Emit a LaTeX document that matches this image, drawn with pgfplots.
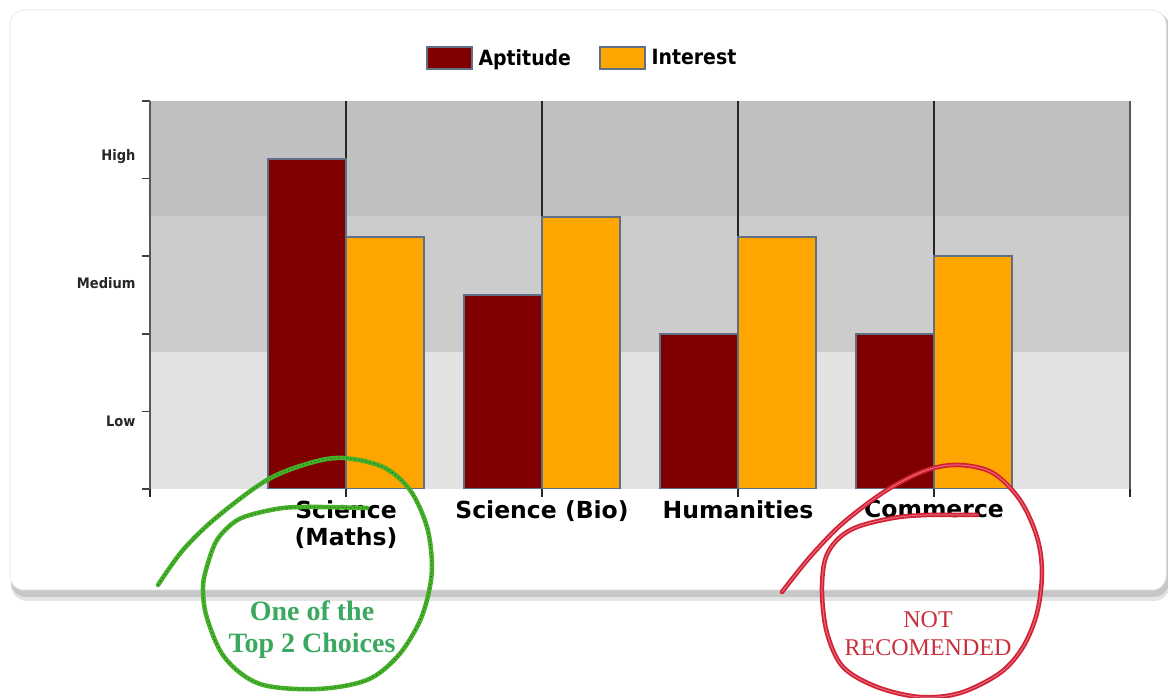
\documentclass[border=0pt]{standalone}
\usepackage{pgfplots}
\pgfplotsset{compat=1.18}
\usepackage{fontspec}
\setmainfont{DejaVu Sans}
\newfontfamily\catfont{DejaVu Sans}
\newfontfamily\condfont{DejaVu Sans}[FakeStretch=0.9]
\newfontfamily\seriffont{Liberation Serif}
\definecolor{apt}{HTML}{800000}
\definecolor{intr}{HTML}{FFA500}
\definecolor{edge}{HTML}{5F6F85}
\definecolor{bandhi}{HTML}{C0C0C0}
\definecolor{bandmid}{HTML}{CCCCCC}
\definecolor{bandlo}{HTML}{E3E2E3}
\definecolor{anngreen}{HTML}{45B02A}
\definecolor{anntext}{HTML}{3AA85E}
\definecolor{annred}{HTML}{D42034}
\definecolor{anntextred}{HTML}{C8303C}
\pgfplotsset{boxlegend/.style={legend image code/.code={\draw[##1,/tikz/.cd,line width=1.5pt] (0pt,-11pt) rectangle (45pt,11pt);}}}
\begin{document}
\begin{tikzpicture}
\useasboundingbox (0,0) rectangle (1168pt,698pt);
% card with shadow
\fill[black!10, rounded corners=16pt] (11pt,97pt) rectangle (1170pt,686pt);
\fill[black!22, rounded corners=15pt] (11pt,101pt) rectangle (1169pt,686pt);
\fill[white, draw=black!8, line width=1pt, rounded corners=14pt] (10pt,108pt) rectangle (1166pt,688pt);
% background bands of the plot area
\fill[bandlo] (150pt,209pt) rectangle (1130pt,346pt);
\fill[bandmid] (150pt,346pt) rectangle (1130pt,482pt);
\fill[bandhi] (150pt,482pt) rectangle (1130pt,597pt);
\begin{axis}[
  at={(150pt,209pt)}, anchor=south west,
  scale only axis, width=980pt, height=388pt,
  xmin=-1, xmax=4, ymin=0, ymax=100,
  separate axis lines,
  x axis line style={draw=none},
  y axis line style={draw=black!65, line width=1.8pt},
  ybar=0pt, bar width=0.4,
  tick pos=left,
  xtick={-1,0,1,2,3,4},
  xticklabels={,{Science\\(Maths)},{Science (Bio)},Humanities,Commerce,},
  xticklabel style={align=center, font=\catfont\bfseries\fontsize{23.5}{27}\selectfont, text=black},
  xmajorgrids, major grid style={draw=black!85, line width=1.3pt},
  ytick={0,20,...,100}, yticklabels={},
  tick align=outside, major tick length=8pt,
  xtick style={draw=black!85, line width=1.3pt},
  ytick style={draw=black!75, line width=1.5pt},
  extra y ticks={17.5,53.1,85.6},
  extra y tick labels={Low,Medium,High},
  extra y tick style={ytick style={draw=none},
     yticklabel style={font=\condfont\bfseries\fontsize{14.5}{16}\selectfont, text=black!85, xshift=-3pt}},
  legend style={at={(0.441,1)}, anchor=center, yshift=43pt, draw=none, fill=none,
     legend columns=2, font=\condfont\bfseries\fontsize{21}{24}\selectfont,
     /tikz/every odd column/.append style={column sep=4pt},
     /tikz/every even column/.append style={column sep=26pt}},
]
\addplot[fill=apt, draw=edge, line width=2pt, boxlegend]
  coordinates {(0,85) (1,50) (2,40) (3,40)};
\addplot[fill=intr, draw=edge, line width=2pt, boxlegend]
  coordinates {(0,65) (1,70) (2,65) (3,60)};
\legend{Aptitude, Interest}
\end{axis}
% hand-drawn annotations
\def\greenpath{(158pt,113pt) (183pt,148pt) (217pt,181pt) (267pt,218pt) (310pt,235pt) (343pt,240pt) (383pt,231pt) (410pt,208pt) (427pt,171pt) (432pt,131pt) (427pt,98pt) (417pt,71pt) (397pt,41pt) (367pt,18pt) (317pt,9pt) (260pt,14pt) (225pt,40pt) (207pt,80pt) (203pt,111pt) (208pt,135pt) (217pt,158pt) (233pt,175pt) (250pt,183pt) (283pt,190pt) (317pt,191pt) (367pt,190pt)}
\def\redpath{(782pt,106pt) (810pt,141pt) (843pt,175pt) (887pt,208pt) (927pt,228pt) (960pt,233pt) (993pt,225pt) (1020pt,198pt) (1037pt,161pt) (1042pt,125pt) (1037pt,85pt) (1023pt,51pt) (1000pt,25pt) (960pt,5pt) (920pt,1pt) (877pt,11pt) (843pt,31pt) (827pt,65pt) (822pt,105pt) (825pt,138pt) (837pt,158pt) (857pt,171pt) (893pt,180pt) (927pt,183pt) (977pt,183pt)}
\draw[anngreen, line width=4.5pt, line cap=round] plot[smooth, tension=0.55] coordinates {\greenpath};
\draw[black!50!anngreen, line width=0.8pt, dash pattern=on 1pt off 3pt] plot[smooth, tension=0.55] coordinates {\greenpath};
\draw[annred, line width=4.5pt, line cap=round] plot[smooth, tension=0.55] coordinates {\redpath};
\draw[white!35!annred, line width=1pt] plot[smooth, tension=0.55] coordinates {\redpath};
\node[text=anntext, font=\seriffont\bfseries\fontsize{28}{32}\selectfont, align=center] at (312pt,68pt) {One of the\\Top 2 Choices};
\node[text=anntextred, font=\seriffont\fontsize{24}{28}\selectfont, align=center] at (928pt,64pt) {NOT\\RECOMENDED};
\end{tikzpicture}
\end{document}
